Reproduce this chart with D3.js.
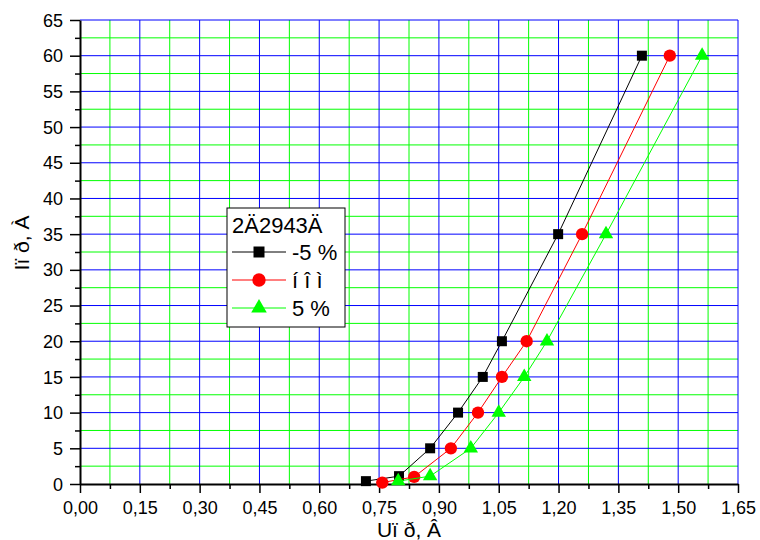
<!DOCTYPE html>
<html>
<head>
<meta charset="utf-8">
<title>Chart</title>
<script src="https://d3js.org/d3.v7.min.js"></script>
<style>
  body { margin: 0; background: #fff; }
  text { font-family: "Liberation Sans", Arial, sans-serif; }
</style>
</head>
<body>
<svg width="760" height="540"></svg>
<script>
// data
const xMinus5 = [0.717, 0.800, 0.878, 0.948, 1.010, 1.058, 1.199, 1.409];
const yMinus5 = [0.4, 1.1, 5, 10, 15, 20, 35, 60];
const xNom = [0.758, 0.838, 0.930, 0.998, 1.058, 1.120, 1.259, 1.479];
const yNom = [0.2, 1.0, 5, 10, 15, 20, 35, 60];
const xPlus5 = [0.798, 0.878, 0.980, 1.050, 1.114, 1.171, 1.319, 1.560];
const yPlus5 = [0.4, 1.1, 5, 10, 15, 20, 35, 60];
const seriesNames = ["-5 %", "í î ì", "5 %"];
const legendTitle = "2Ä2943Ä";
const xTicks = d3.range(0, 1.651, 0.15);
const yTicks = d3.range(0, 66, 5);

const svg = d3.select("svg");
const mLeft = 80, mRight = 738, mTop = 20, mBottom = 484;

let x = d3.scaleLinear().domain([0, 1.65]).range([mLeft, mRight]);
let y = d3.scaleLinear().domain([0, 65]).range([mBottom, mTop]);

// grid - minor green, major blue
const xMinor = xTicks.slice(0, -1).map(d => d + 0.075);
const yMinor = yTicks.slice(0, -1).map(d => d + 2.5);

svg.append("g").selectAll("line").data(xMinor).enter().append("line")
  .attr("x1", d => x(d)).attr("x2", d => x(d))
  .attr("y1", mTop).attr("y2", mBottom)
  .attr("stroke", "#00ff00").attr("stroke-width", 1);
svg.append("g").selectAll("line").data(yMinor).enter().append("line")
  .attr("x1", mLeft).attr("x2", mRight)
  .attr("y1", d => y(d)).attr("y2", d => y(d))
  .attr("stroke", "#00ff00").attr("stroke-width", 1);
svg.append("g").selectAll("line").data(xTicks.slice(1)).enter().append("line")
  .attr("x1", d => x(d)).attr("x2", d => x(d))
  .attr("y1", mTop).attr("y2", mBottom)
  .attr("stroke", "#0000ff").attr("stroke-width", 1);
svg.append("g").selectAll("line").data(yTicks.slice(1)).enter().append("line")
  .attr("x1", mLeft).attr("x2", mRight)
  .attr("y1", d => y(d)).attr("y2", d => y(d))
  .attr("stroke", "#0000ff").attr("stroke-width", 1);

// axes
const fmt = d => d.toFixed(2).replace(".", ",");
let xAxis = svg.append("g")
  .attr("transform", "translate(0," + mBottom + ")")
  .call(d3.axisBottom(x).tickValues(xTicks).tickFormat(fmt).tickSize(9).tickSizeOuter(0));
svg.append("g")
  .attr("transform", "translate(0," + mBottom + ")")
  .call(d3.axisBottom(x).tickValues(xMinor).tickFormat("").tickSize(5).tickSizeOuter(0))
  .select(".domain").remove();
let yAxis = svg.append("g")
  .attr("transform", "translate(" + mLeft + ",0)")
  .call(d3.axisLeft(y).tickValues(yTicks).tickSize(10).tickSizeOuter(0));
svg.append("g")
  .attr("transform", "translate(" + mLeft + ",0)")
  .call(d3.axisLeft(y).tickValues(yMinor).tickFormat("").tickSize(5).tickSizeOuter(0))
  .select(".domain").remove();

svg.selectAll(".tick line").attr("stroke", "#000").attr("stroke-width", 1.5);
svg.selectAll(".domain").attr("stroke", "#000").attr("stroke-width", 2);
xAxis.selectAll("text").attr("font-size", 18).attr("y", 17).attr("dy", "0.71em")
  .style("font-family", "'Liberation Sans', Arial, sans-serif");
yAxis.selectAll("text").attr("font-size", 18).attr("x", -17).attr("dy", "0.34em")
  .style("font-family", "'Liberation Sans', Arial, sans-serif");

// axis titles
svg.append("text")
  .attr("text-anchor", "middle")
  .attr("x", 409).attr("y", 537)
  .attr("font-size", 21)
  .text("Uï ð, Â");
svg.append("text")
  .attr("text-anchor", "middle")
  .attr("transform", "translate(29,243) rotate(-90)")
  .attr("font-size", 21)
  .text("Iï ð, À");

// series
const series = [
  { xs: xMinus5, ys: yMinus5, color: "#000000", shape: d3.symbolSquare, size: 100, lsize: 121 },
  { xs: xNom, ys: yNom, color: "#ff0000", shape: d3.symbolCircle, size: 120, lsize: 140 },
  { xs: xPlus5, ys: yPlus5, color: "#00ff00", shape: d3.symbolTriangle, size: 90, lsize: 105 }
];

const line = d3.line().x(d => x(d[0])).y(d => y(d[1]));

series.forEach(function(s) {
  let pts = s.xs.map((v, i) => [v, s.ys[i]]);
  svg.append("path")
    .attr("d", line(pts))
    .attr("fill", "none")
    .attr("stroke", s.color)
    .attr("stroke-width", 1);
  svg.append("g").selectAll("path").data(pts).enter().append("path")
    .attr("transform", d => "translate(" + x(d[0]) + "," + y(d[1]) + ")")
    .attr("d", d3.symbol().type(s.shape).size(s.size))
    .attr("fill", s.color);
});

// legend
let lg = svg.append("g").attr("transform", "translate(227,208)");
lg.append("rect")
  .attr("width", 118).attr("height", 119)
  .attr("fill", "#fff").attr("stroke", "#000").attr("stroke-width", 1);
lg.append("text").attr("x", 5).attr("y", 25).attr("font-size", 22).text(legendTitle);
series.forEach(function(s, i) {
  let cy = 44 + i * 28;
  lg.append("line")
    .attr("x1", 5).attr("x2", 59).attr("y1", cy).attr("y2", cy)
    .attr("stroke", s.color).attr("stroke-width", 1);
  lg.append("path")
    .attr("transform", "translate(32," + cy + ")")
    .attr("d", d3.symbol().type(s.shape).size(s.lsize))
    .attr("fill", s.color);
  lg.append("text")
    .attr("x", 65).attr("y", cy + 8)
    .attr("font-size", 22)
    .text(seriesNames[i]);
});
</script>
</body>
</html>
